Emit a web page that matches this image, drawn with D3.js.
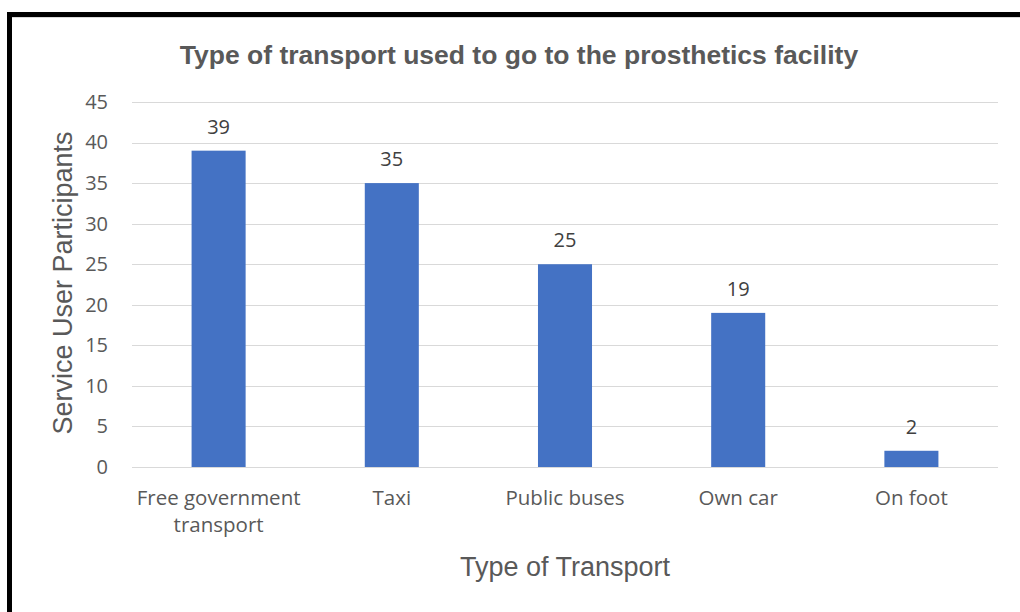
<!DOCTYPE html>
<html><head><meta charset="utf-8">
<script src="https://cdn.jsdelivr.net/npm/d3@7"></script>
<style>body{margin:0;background:#fff}svg{display:block}</style>
</head><body>
<svg id="c" width="1020" height="612"></svg>
<script>
const categories = ["Free government transport", "Taxi", "Public buses", "Own car", "On foot"];
const categoryLines = [["Free government", "transport"], ["Taxi"], ["Public buses"], ["Own car"], ["On foot"]];
const values = [39, 35, 25, 19, 2];
const yTicks = [0, 5, 10, 15, 20, 25, 30, 35, 40, 45];

const svg = d3.select("#c");
// frame
svg.append("rect").attr("x", 0).attr("y", 0).attr("width", 1020).attr("height", 612).attr("fill", "#fff");
svg.append("rect").attr("x", 7).attr("y", 12).attr("width", 1013).attr("height", 5).attr("fill", "#000");
svg.append("rect").attr("x", 7).attr("y", 12).attr("width", 5).attr("height", 600).attr("fill", "#000");
svg.append("line").attr("x1", 12).attr("x2", 1020).attr("y1", 17.5).attr("y2", 17.5).attr("stroke", "#d9d9d9").attr("stroke-width", 1);

const x = d3.scaleBand().domain(categories).range([132, 998]).paddingInner(0.688).paddingOuter(0.344);
const y = d3.scaleLinear().domain([0, 45]).range([467, 102]);

// gridlines
svg.append("g").selectAll("line").data(yTicks).join("line")
  .attr("x1", 132).attr("x2", 998)
  .attr("y1", d => Math.round(y(d)) + 0.5).attr("y2", d => Math.round(y(d)) + 0.5)
  .attr("stroke", "#d9d9d9").attr("stroke-width", 1);

// y axis labels
const yAxis = d3.axisLeft(y).tickValues(yTicks).tickSize(0).tickPadding(0);
const ga = svg.append("g").attr("transform", "translate(108,0)").call(yAxis);
ga.select(".domain").remove();
ga.selectAll("text").attr("font-family", "'Open Sans', sans-serif").attr("font-size", 20).attr("fill", "#595959");

// bars
svg.append("g").selectAll("rect").data(values).join("rect")
  .attr("x", (d, i) => x(categories[i])).attr("width", x.bandwidth())
  .attr("y", d => y(d)).attr("height", d => y(0) - y(d))
  .attr("fill", "#4472c4");

// data labels
svg.append("g").selectAll("text").data(values).join("text")
  .attr("x", (d, i) => x(categories[i]) + x.bandwidth() / 2)
  .attr("y", d => y(d) - 17)
  .attr("text-anchor", "middle")
  .attr("font-family", "'Open Sans', sans-serif").attr("font-size", 20).attr("fill", "#404040")
  .text(d => d);

// category labels
const cg = svg.append("g");
categoryLines.forEach((lines, i) => {
  const t = cg.append("text")
    .attr("x", x(categories[i]) + x.bandwidth() / 2)
    .attr("y", 505)
    .attr("text-anchor", "middle")
    .attr("font-family", "'Open Sans', sans-serif").attr("font-size", 20.5).attr("fill", "#595959");
  lines.forEach((l, j) => t.append("tspan").attr("x", x(categories[i]) + x.bandwidth() / 2).attr("dy", j ? 27 : 0).text(l));
});

// title
svg.append("text").attr("x", 519).attr("y", 64).attr("text-anchor", "middle")
  .attr("font-family", "'Liberation Sans', Arial, sans-serif").attr("font-weight", "bold")
  .attr("font-size", 26.5).attr("fill", "#595959")
  .text("Type of transport used to go to the prosthetics facility");

// axis titles
svg.append("text").attr("x", 565).attr("y", 576).attr("text-anchor", "middle")
  .attr("font-family", "'Liberation Sans', Arial, sans-serif").attr("font-size", 27).attr("fill", "#595959")
  .text("Type of Transport");
svg.append("text").attr("transform", "translate(72,283) rotate(-90)").attr("text-anchor", "middle")
  .attr("font-family", "'Liberation Sans', Arial, sans-serif").attr("font-size", 27).attr("fill", "#595959")
  .text("Service User Participants");
</script>
</body></html>
